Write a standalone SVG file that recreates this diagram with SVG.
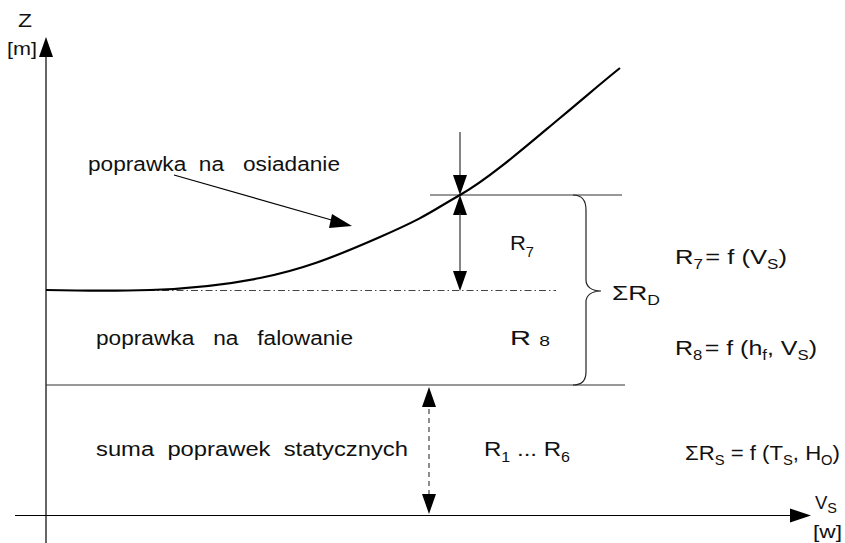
<svg xmlns="http://www.w3.org/2000/svg" width="845" height="543" viewBox="0 0 845 543">
  <style>
    text { font-family: "Liberation Sans", Arial, sans-serif; font-size: 20px; fill: #111; white-space: pre; }
    .big { font-size: 21px; }
    .sub { font-size: 14px; }
    .ax { stroke: #000; stroke-width: 1.2; fill: none; }
    .thin { stroke: #333; stroke-width: 1.2; fill: none; }
    .head { fill: #000; stroke: none; }
  </style>
  <rect width="845" height="543" fill="#fff"/>

  <!-- axes -->
  <g id="axes">
    <line class="ax" x1="46" y1="543" x2="46" y2="52"/>
    <polygon class="head" points="46,37 39,57 53,57"/>
    <line class="ax" x1="15" y1="515.5" x2="795" y2="515.5"/>
    <polygon class="head" points="811,515.5 790,508.5 790,522.5"/>
    <text x="18" y="27" style="font-size:18px" textLength="14" lengthAdjust="spacingAndGlyphs">Z</text>
    <text x="7" y="55" style="font-size:18px" textLength="30" lengthAdjust="spacingAndGlyphs">[m]</text>
    <text x="815" y="509" style="font-size:18px" textLength="22" lengthAdjust="spacingAndGlyphs">V<tspan class="sub" dy="4">S</tspan></text>
    <text x="813" y="538" style="font-size:18px" textLength="29" lengthAdjust="spacingAndGlyphs">[w]</text>
  </g>

  <!-- level lines -->
  <g id="levels">
    <line class="thin" x1="430" y1="195" x2="622" y2="195"/>
    <line class="thin" x1="46" y1="385" x2="625" y2="385"/>
    <line x1="46" y1="290.5" x2="556" y2="290.5" stroke="#444" stroke-width="1" stroke-dasharray="7,3,1.5,3"/>
  </g>

  <!-- squat curve -->
  <g id="curve">
    <path d="M46,290 C90,291 120,291 150,290 S220,286 260,278 S330,259 380,237 S430,212 460,195 S530,143 560,118 S600,84 620,68" fill="none" stroke="#000" stroke-width="2.2"/>
  </g>

  <!-- brace -->
  <g id="brace">
    <path d="M573,195 C582,195 586,200 586,210 L586,280 C586,287 592,291 601,291 C592,291 586,295 586,302 L586,372 C586,381 582,385 573,385" fill="none" stroke="#222" stroke-width="1.2"/>
  </g>

  <!-- connectors -->
  <g id="connectors">
    <line class="thin" x1="460" y1="132" x2="460" y2="178"/>
    <polygon class="head" points="460,195 453,175 467,175"/>
    <polygon class="head" points="460,195 453,215 467,215"/>
    <line class="thin" x1="460" y1="213" x2="460" y2="274"/>
    <polygon class="head" points="460,291 453,271 467,271"/>

    <line x1="429" y1="400" x2="429" y2="500" stroke="#444" stroke-width="1.2" stroke-dasharray="5,4"/>
    <polygon class="head" points="429,387 422,407 436,407"/>
    <polygon class="head" points="429,514 422,494 436,494"/>

    <line x1="174" y1="175" x2="335" y2="221" stroke="#000" stroke-width="1.2"/>
    <polygon class="head" points="352,226 332,214 329,228"/>
  </g>

  <!-- labels -->
  <g id="labels">
    <text x="88" y="171" textLength="252" lengthAdjust="spacingAndGlyphs">poprawka  na   osiadanie</text>
    <text x="96" y="345" textLength="257" lengthAdjust="spacingAndGlyphs">poprawka   na   falowanie</text>
    <text x="96" y="456" textLength="312" lengthAdjust="spacingAndGlyphs">suma  poprawek  statycznych</text>

    <text class="big" x="510" y="250" textLength="24" lengthAdjust="spacingAndGlyphs">R<tspan class="sub" dy="7">7</tspan></text>
    <text class="big" x="510" y="345" textLength="40" lengthAdjust="spacingAndGlyphs">R<tspan class="sub" dx="6" dy="1">8</tspan></text>
    <text class="big" x="484" y="456" textLength="86" lengthAdjust="spacingAndGlyphs">R<tspan class="sub" dy="6">1</tspan><tspan dy="-6"> ... R</tspan><tspan class="sub" dy="6">6</tspan></text>

    <text class="big" x="612" y="300" textLength="48" lengthAdjust="spacingAndGlyphs">ΣR<tspan class="sub" dy="5">D</tspan></text>

    <text class="big" x="675" y="264" textLength="112" lengthAdjust="spacingAndGlyphs">R<tspan class="sub" dy="5">7</tspan><tspan dx="2" dy="-5">= f (V</tspan><tspan class="sub" dy="5">S</tspan><tspan dy="-5">)</tspan></text>
    <text class="big" x="675" y="355" textLength="142" lengthAdjust="spacingAndGlyphs">R<tspan class="sub" dy="5">8</tspan><tspan dx="2" dy="-5">= f (h</tspan><tspan class="sub" dy="5">f</tspan><tspan dy="-5">, V</tspan><tspan class="sub" dy="5">S</tspan><tspan dy="-5">)</tspan></text>
    <text class="big" x="685" y="460" textLength="155" lengthAdjust="spacingAndGlyphs">ΣR<tspan class="sub" dy="5">S</tspan><tspan dy="-5"> = f (T</tspan><tspan class="sub" dy="5">S</tspan><tspan dy="-5">, H</tspan><tspan class="sub" dy="5">O</tspan><tspan dy="-5">)</tspan></text>
  </g>
</svg>
